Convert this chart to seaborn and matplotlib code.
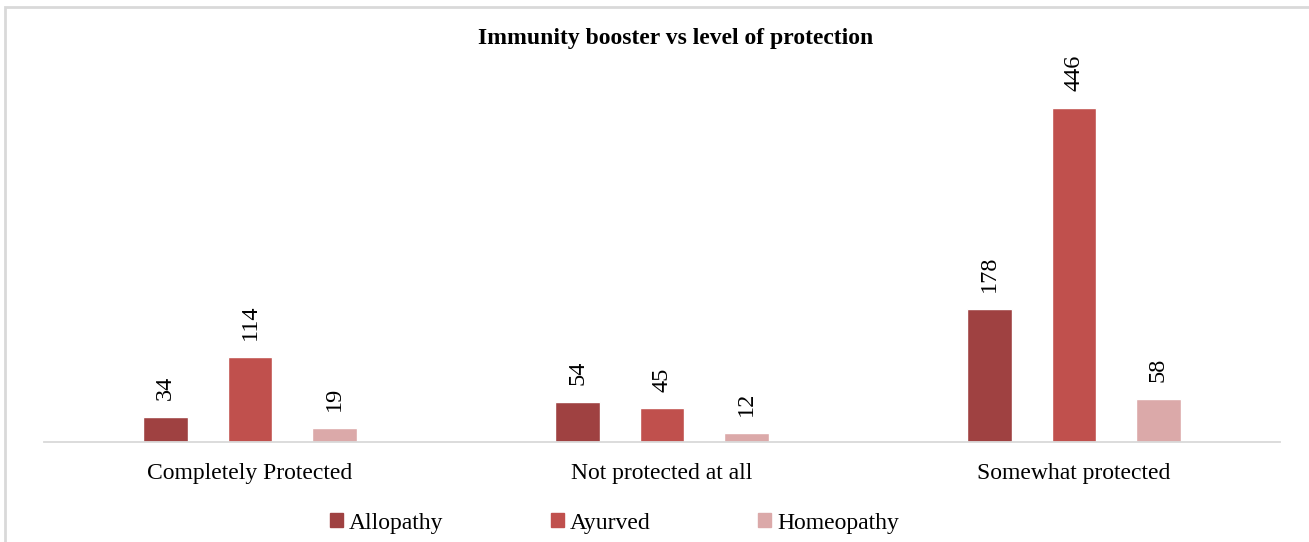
import matplotlib
matplotlib.use("Agg")
import matplotlib.pyplot as plt
import matplotlib.patches as mpatches
import seaborn as sns
import pandas as pd

categories = ["Completely Protected", "Not protected at all", "Somewhat protected"]
boosters = ["Allopathy", "Ayurved", "Homeopathy"]
allopathy = [34, 54, 178]
ayurved = [114, 45, 446]
homeopathy = [19, 12, 58]
colors = ["#9F4141", "#C0504D", "#DBA9A9"]

df = pd.DataFrame({
    "level": categories * 3,
    "booster": [b for b in boosters for _ in categories],
    "count": allopathy + ayurved + homeopathy,
})

sns.set_theme(style="white")
plt.rcParams["font.family"] = ["Liberation Serif", "DejaVu Serif"]
plt.rcParams["text.color"] = "black"

fig = plt.figure(figsize=(13.09, 5.42), dpi=100)
ax = fig.add_axes([0.0336, 0.1845, 0.9442, 0.691])

sns.barplot(data=df, x="level", y="count", hue="booster", order=categories,
            hue_order=boosters, palette=colors, width=0.615, gap=0.47,
            ax=ax, legend=False, saturation=1)

for container in ax.containers:
    ax.bar_label(container, labels=[f"{int(v)}" for v in container.datavalues],
                 rotation=90, padding=12, fontsize=17.5, color="black")

ax.set_ylim(0, 500)
ax.set_xlim(-0.5, 2.5)
ax.set_xlabel("")
ax.set_ylabel("")
ax.set_yticks([])
ax.tick_params(axis="x", labelsize=17, length=0, pad=15, colors="black")
for side in ["top", "left", "right"]:
    ax.spines[side].set_visible(False)
ax.spines["bottom"].set_color("#D9D9D9")
ax.spines["bottom"].set_linewidth(1.3)

fig.text(0.516, 0.929, "Immunity booster vs level of protection", ha="center",
         va="center", fontsize=17, fontweight="bold", color="black")

handles = [mpatches.Patch(color=c, label=b) for b, c in zip(boosters, colors)]
fig.legend(handles=handles, loc="center", bbox_to_anchor=(0.4695, 0.035), ncol=3,
           frameon=False, fontsize=17, handlelength=0.55, handleheight=0.55,
           handletextpad=0.25, columnspacing=4.55, labelcolor="black")

border = mpatches.Rectangle((5 / 1309, -0.05), 1.1, 1.05 - 7 / 542,
                            transform=fig.transFigure, fill=False,
                            edgecolor="#D9D9D9", linewidth=2, clip_on=False)
fig.patches.append(border)

fig.savefig("out.png", dpi=100)
